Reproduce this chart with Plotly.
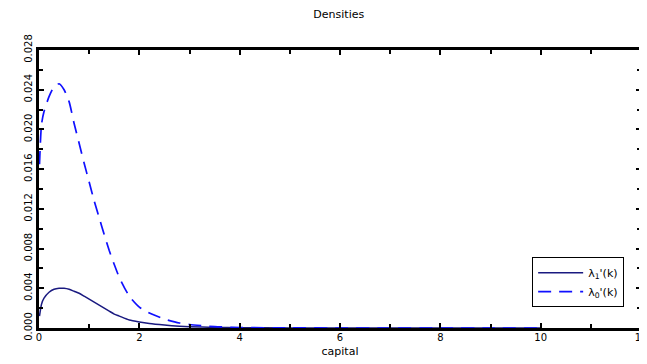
import plotly.graph_objects as go

# capital grid
capital = [0.01, 0.05, 0.1, 0.2, 0.3, 0.4, 0.5, 0.6, 0.7, 0.8, 0.9, 1.0, 1.1, 1.2, 1.3,
           1.4, 1.5, 1.6, 1.8, 2.0, 2.2, 2.5, 2.8, 3.0, 3.5, 4.0, 5.0, 6.0, 7.0, 8.0, 9.0, 10.0]

# lambda_1'(k) (solid)
lambda1 = [0.0012, 0.0024, 0.0030, 0.0036, 0.0039, 0.0040, 0.0040, 0.0039, 0.0037, 0.0035,
           0.0032, 0.0029, 0.0026, 0.0023, 0.0020, 0.0017, 0.0014, 0.0012, 0.0008, 0.0006,
           0.00045, 0.0003, 0.00018, 0.00013, 0.00006, 0.00003, 0.00001, 0.0, 0.0, 0.0, 0.0, 0.0]

# lambda_0'(k) (dashed)
lambda0 = [0.0165, 0.0205, 0.0218, 0.0233, 0.0243, 0.0246, 0.0240, 0.0228, 0.0206, 0.0186,
           0.0166, 0.0147, 0.0128, 0.0111, 0.0094, 0.0078, 0.0064, 0.0051, 0.0032, 0.0021,
           0.0015, 0.0009, 0.0005, 0.00035, 0.00014, 0.00005, 0.00001, 0.0, 0.0, 0.0, 0.0, 0.0]

x_ticks = [0, 2, 4, 6, 8, 10, 12]
y_ticks = [0.000, 0.004, 0.008, 0.012, 0.016, 0.020, 0.024, 0.028]

font_family = "DejaVu Sans, Verdana, sans-serif"

fig = go.Figure()
fig.add_trace(go.Scatter(
    x=capital, y=lambda1, mode="lines", name="λ<sub>1</sub>'(k)",
    line=dict(color="#1a1a80", width=1.5, shape="spline", smoothing=0.6),
))
fig.add_trace(go.Scatter(
    x=capital, y=lambda0, mode="lines", name="λ<sub>0</sub>'(k)",
    line=dict(color="#1010ff", width=1.7, dash="13px,8px", shape="spline", smoothing=0.6),
))

axis_common = dict(
    showline=True, linecolor="black", linewidth=3, mirror="allticks",
    ticks="inside", ticklen=5, tickcolor="black", tickwidth=1.5,
    showgrid=False, zeroline=False,
    tickfont=dict(family=font_family, size=10, color="black"),
)

fig.update_xaxes(
    range=[0, 12], tickvals=x_ticks, ticktext=[str(v) for v in x_ticks],
    minor=dict(ticks="inside", dtick=1, ticklen=4, tickcolor="black", tickwidth=1.5),
    ticklabelstandoff=-2,
    title=dict(text="capital", font=dict(family=font_family, size=11, color="black"), standoff=6),
    **axis_common,
)
fig.update_yaxes(
    range=[0, 0.028], tickvals=y_ticks, ticktext=[f"{v:.3f}" for v in y_ticks],
    tickangle=-90,
    minor=dict(ticks="inside", dtick=0.002, ticklen=4, tickcolor="black", tickwidth=1.5),
    **axis_common,
)

fig.update_layout(
    width=647, height=364,
    margin=dict(l=31, r=8, t=42, b=44),
    paper_bgcolor="white", plot_bgcolor="white",
    title=dict(text="Densities", x=0.498, xref="paper", xanchor="center",
               y=0.995, yref="container", yanchor="top", pad=dict(t=0, b=0),
               font=dict(family=font_family, size=11, color="black")),
    legend=dict(
        x=0.972, xanchor="right", y=0.075, yanchor="bottom",
        bordercolor="black", borderwidth=1, bgcolor="white",
        font=dict(family=font_family, size=11, color="black"),
        tracegroupgap=0, itemwidth=45,
    ),
    showlegend=True,
)

fig.write_html("out.html")
